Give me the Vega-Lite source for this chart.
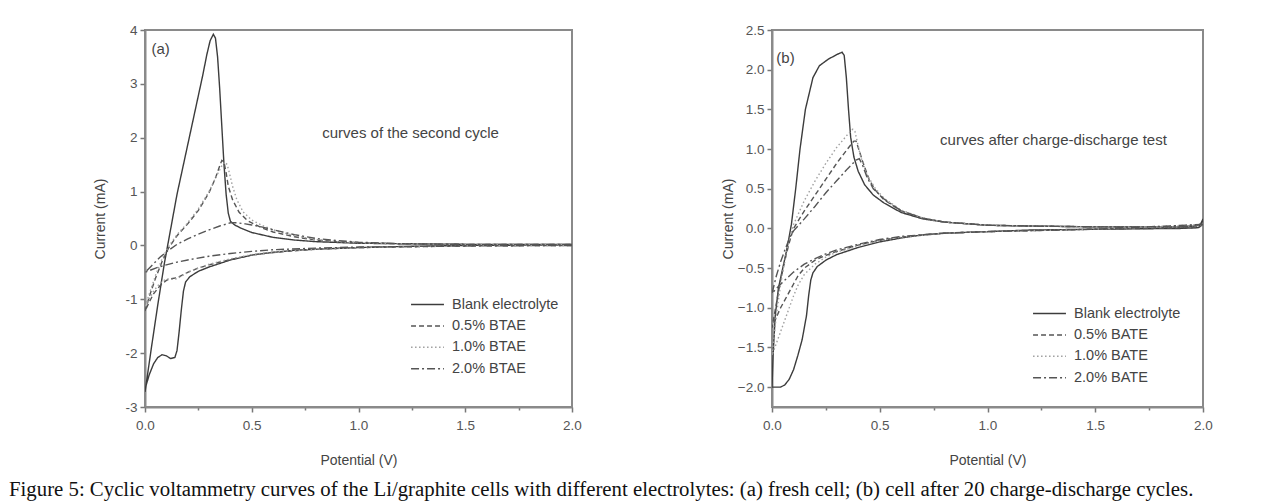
{
  "$schema": "https://vega.github.io/schema/vega-lite/v6.json",
  "autosize": {"type": "pad"},
  "padding": {"left": 8, "top": 22, "right": 5, "bottom": 2},
  "background": "white",
  "title": {
    "text": "Figure 5: Cyclic voltammetry curves of the Li/graphite cells with different electrolytes: (a) fresh cell; (b) cell after 20 charge-discharge cycles.",
    "orient": "bottom", "anchor": "start", "font": "Liberation Serif", "fontSize": 20.8,
    "fontWeight": "normal", "color": "#111", "offset": 11, "dx": -84
  },
  "config": {
    "view": {"stroke": "#8a8a8a", "strokeWidth": 2},
    "axis": {
      "domainColor": "#8a8a8a", "domainWidth": 2, "tickColor": "#777", "tickWidth": 1.5,
      "labelFont": "Liberation Sans", "labelFontSize": 13.5, "labelColor": "#555",
      "titleFont": "Liberation Sans", "titleFontSize": 14, "titleFontWeight": "normal",
      "titleColor": "#444", "grid": false, "labelFlush": false, "labelOverlap": false
    },
    "axisX": {"labelPadding": 6, "titlePadding": 22},
    "axisY": {"labelPadding": 3},
    "legend": {
      "labelFont": "Liberation Sans", "labelFontSize": 14.5, "labelColor": "#444",
      "symbolType": "M-1.9,0H1.9", "symbolSize": 300, "symbolStrokeWidth": 1.5, "rowPadding": 5.4,
      "labelOffset": 15
    },
    "text": {"font": "Liberation Sans", "fontSize": 15, "color": "#444"}
  },
  "resolve": {
    "scale": {"color": "independent", "strokeDash": "independent"},
    "legend": {"color": "independent", "strokeDash": "independent"}
  },
  "spacing": 137,
  "hconcat": [
    {
      "width": 427, "height": 377,
      "layer": [
        {
          "data": {"values": [
            {"s":"Blank electrolyte","v":2.0,"c":0.01},{"s":"Blank electrolyte","v":1.5,"c":0.0},{"s":"Blank electrolyte","v":1.2,"c":-0.02},{"s":"Blank electrolyte","v":1.0,"c":-0.04},{"s":"Blank electrolyte","v":0.8,"c":-0.07},{"s":"Blank electrolyte","v":0.7,"c":-0.09},{"s":"Blank electrolyte","v":0.6,"c":-0.13},{"s":"Blank electrolyte","v":0.5,"c":-0.18},{"s":"Blank electrolyte","v":0.4,"c":-0.27},{"s":"Blank electrolyte","v":0.3,"c":-0.4},{"s":"Blank electrolyte","v":0.25,"c":-0.48},{"s":"Blank electrolyte","v":0.21,"c":-0.58},{"s":"Blank electrolyte","v":0.19,"c":-0.68},{"s":"Blank electrolyte","v":0.18,"c":-0.85},{"s":"Blank electrolyte","v":0.17,"c":-1.2},{"s":"Blank electrolyte","v":0.16,"c":-1.6},{"s":"Blank electrolyte","v":0.15,"c":-1.95},{"s":"Blank electrolyte","v":0.14,"c":-2.08},{"s":"Blank electrolyte","v":0.12,"c":-2.1},{"s":"Blank electrolyte","v":0.1,"c":-2.05},{"s":"Blank electrolyte","v":0.08,"c":-2.03},{"s":"Blank electrolyte","v":0.06,"c":-2.08},{"s":"Blank electrolyte","v":0.04,"c":-2.2},{"s":"Blank electrolyte","v":0.02,"c":-2.4},{"s":"Blank electrolyte","v":0.005,"c":-2.6},{"s":"Blank electrolyte","v":0.0,"c":-2.72},
            {"s":"Blank electrolyte","v":0.01,"c":-2.45},{"s":"Blank electrolyte","v":0.03,"c":-1.9},{"s":"Blank electrolyte","v":0.06,"c":-1.1},{"s":"Blank electrolyte","v":0.09,"c":-0.35},{"s":"Blank electrolyte","v":0.12,"c":0.3},{"s":"Blank electrolyte","v":0.15,"c":0.95},{"s":"Blank electrolyte","v":0.18,"c":1.5},{"s":"Blank electrolyte","v":0.21,"c":2.05},{"s":"Blank electrolyte","v":0.24,"c":2.6},{"s":"Blank electrolyte","v":0.27,"c":3.15},{"s":"Blank electrolyte","v":0.29,"c":3.55},{"s":"Blank electrolyte","v":0.305,"c":3.8},{"s":"Blank electrolyte","v":0.32,"c":3.92},{"s":"Blank electrolyte","v":0.33,"c":3.85},{"s":"Blank electrolyte","v":0.34,"c":3.5},{"s":"Blank electrolyte","v":0.35,"c":2.9},{"s":"Blank electrolyte","v":0.36,"c":2.2},{"s":"Blank electrolyte","v":0.37,"c":1.5},{"s":"Blank electrolyte","v":0.38,"c":0.95},{"s":"Blank electrolyte","v":0.39,"c":0.6},{"s":"Blank electrolyte","v":0.4,"c":0.45},{"s":"Blank electrolyte","v":0.42,"c":0.38},{"s":"Blank electrolyte","v":0.45,"c":0.32},{"s":"Blank electrolyte","v":0.5,"c":0.24},{"s":"Blank electrolyte","v":0.6,"c":0.15},{"s":"Blank electrolyte","v":0.7,"c":0.1},{"s":"Blank electrolyte","v":0.8,"c":0.07},{"s":"Blank electrolyte","v":1.0,"c":0.04},{"s":"Blank electrolyte","v":1.5,"c":0.02},{"s":"Blank electrolyte","v":2.0,"c":0.02},
            {"s":"0.5% BTAE","v":2.0,"c":0.0},{"s":"0.5% BTAE","v":1.5,"c":-0.01},{"s":"0.5% BTAE","v":1.0,"c":-0.04},{"s":"0.5% BTAE","v":0.8,"c":-0.07},{"s":"0.5% BTAE","v":0.6,"c":-0.13},{"s":"0.5% BTAE","v":0.5,"c":-0.18},{"s":"0.5% BTAE","v":0.4,"c":-0.26},{"s":"0.5% BTAE","v":0.3,"c":-0.36},{"s":"0.5% BTAE","v":0.25,"c":-0.42},{"s":"0.5% BTAE","v":0.2,"c":-0.5},{"s":"0.5% BTAE","v":0.17,"c":-0.56},{"s":"0.5% BTAE","v":0.15,"c":-0.6},{"s":"0.5% BTAE","v":0.12,"c":-0.62},{"s":"0.5% BTAE","v":0.1,"c":-0.65},{"s":"0.5% BTAE","v":0.07,"c":-0.75},{"s":"0.5% BTAE","v":0.04,"c":-0.9},{"s":"0.5% BTAE","v":0.02,"c":-1.05},{"s":"0.5% BTAE","v":0.0,"c":-1.22},
            {"s":"0.5% BTAE","v":0.02,"c":-0.95},{"s":"0.5% BTAE","v":0.05,"c":-0.6},{"s":"0.5% BTAE","v":0.08,"c":-0.3},{"s":"0.5% BTAE","v":0.11,"c":-0.05},{"s":"0.5% BTAE","v":0.15,"c":0.18},{"s":"0.5% BTAE","v":0.2,"c":0.4},{"s":"0.5% BTAE","v":0.25,"c":0.65},{"s":"0.5% BTAE","v":0.3,"c":0.98},{"s":"0.5% BTAE","v":0.33,"c":1.25},{"s":"0.5% BTAE","v":0.35,"c":1.48},{"s":"0.5% BTAE","v":0.36,"c":1.58},{"s":"0.5% BTAE","v":0.37,"c":1.55},{"s":"0.5% BTAE","v":0.38,"c":1.35},{"s":"0.5% BTAE","v":0.39,"c":1.1},{"s":"0.5% BTAE","v":0.41,"c":0.85},{"s":"0.5% BTAE","v":0.44,"c":0.62},{"s":"0.5% BTAE","v":0.48,"c":0.46},{"s":"0.5% BTAE","v":0.55,"c":0.32},{"s":"0.5% BTAE","v":0.6,"c":0.25},{"s":"0.5% BTAE","v":0.7,"c":0.16},{"s":"0.5% BTAE","v":0.8,"c":0.1},{"s":"0.5% BTAE","v":0.9,"c":0.07},{"s":"0.5% BTAE","v":1.0,"c":0.05},{"s":"0.5% BTAE","v":1.2,"c":0.03},{"s":"0.5% BTAE","v":1.5,"c":0.02},{"s":"0.5% BTAE","v":2.0,"c":0.02},
            {"s":"1.0% BTAE","v":2.0,"c":0.0},{"s":"1.0% BTAE","v":1.5,"c":-0.01},{"s":"1.0% BTAE","v":1.0,"c":-0.04},{"s":"1.0% BTAE","v":0.8,"c":-0.07},{"s":"1.0% BTAE","v":0.6,"c":-0.12},{"s":"1.0% BTAE","v":0.5,"c":-0.17},{"s":"1.0% BTAE","v":0.4,"c":-0.25},{"s":"1.0% BTAE","v":0.3,"c":-0.35},{"s":"1.0% BTAE","v":0.25,"c":-0.42},{"s":"1.0% BTAE","v":0.2,"c":-0.5},{"s":"1.0% BTAE","v":0.17,"c":-0.57},{"s":"1.0% BTAE","v":0.15,"c":-0.62},{"s":"1.0% BTAE","v":0.13,"c":-0.63},{"s":"1.0% BTAE","v":0.1,"c":-0.62},{"s":"1.0% BTAE","v":0.07,"c":-0.7},{"s":"1.0% BTAE","v":0.04,"c":-0.85},{"s":"1.0% BTAE","v":0.02,"c":-1.0},{"s":"1.0% BTAE","v":0.0,"c":-1.15},
            {"s":"1.0% BTAE","v":0.02,"c":-0.9},{"s":"1.0% BTAE","v":0.05,"c":-0.55},{"s":"1.0% BTAE","v":0.08,"c":-0.25},{"s":"1.0% BTAE","v":0.11,"c":-0.02},{"s":"1.0% BTAE","v":0.15,"c":0.2},{"s":"1.0% BTAE","v":0.2,"c":0.42},{"s":"1.0% BTAE","v":0.25,"c":0.68},{"s":"1.0% BTAE","v":0.3,"c":1.0},{"s":"1.0% BTAE","v":0.33,"c":1.25},{"s":"1.0% BTAE","v":0.36,"c":1.48},{"s":"1.0% BTAE","v":0.375,"c":1.55},{"s":"1.0% BTAE","v":0.385,"c":1.5},{"s":"1.0% BTAE","v":0.395,"c":1.35},{"s":"1.0% BTAE","v":0.41,"c":1.1},{"s":"1.0% BTAE","v":0.43,"c":0.85},{"s":"1.0% BTAE","v":0.46,"c":0.62},{"s":"1.0% BTAE","v":0.5,"c":0.47},{"s":"1.0% BTAE","v":0.55,"c":0.37},{"s":"1.0% BTAE","v":0.6,"c":0.29},{"s":"1.0% BTAE","v":0.7,"c":0.18},{"s":"1.0% BTAE","v":0.8,"c":0.11},{"s":"1.0% BTAE","v":0.9,"c":0.07},{"s":"1.0% BTAE","v":1.0,"c":0.05},{"s":"1.0% BTAE","v":1.2,"c":0.03},{"s":"1.0% BTAE","v":1.5,"c":0.02},{"s":"1.0% BTAE","v":2.0,"c":0.02},
            {"s":"2.0% BTAE","v":2.0,"c":0.0},{"s":"2.0% BTAE","v":1.5,"c":-0.01},{"s":"2.0% BTAE","v":1.0,"c":-0.03},{"s":"2.0% BTAE","v":0.8,"c":-0.05},{"s":"2.0% BTAE","v":0.6,"c":-0.08},{"s":"2.0% BTAE","v":0.5,"c":-0.11},{"s":"2.0% BTAE","v":0.4,"c":-0.15},{"s":"2.0% BTAE","v":0.3,"c":-0.2},{"s":"2.0% BTAE","v":0.2,"c":-0.27},{"s":"2.0% BTAE","v":0.15,"c":-0.31},{"s":"2.0% BTAE","v":0.1,"c":-0.36},{"s":"2.0% BTAE","v":0.05,"c":-0.42},{"s":"2.0% BTAE","v":0.0,"c":-0.5},
            {"s":"2.0% BTAE","v":0.03,"c":-0.38},{"s":"2.0% BTAE","v":0.07,"c":-0.22},{"s":"2.0% BTAE","v":0.1,"c":-0.12},{"s":"2.0% BTAE","v":0.15,"c":0.02},{"s":"2.0% BTAE","v":0.2,"c":0.12},{"s":"2.0% BTAE","v":0.25,"c":0.21},{"s":"2.0% BTAE","v":0.3,"c":0.29},{"s":"2.0% BTAE","v":0.35,"c":0.36},{"s":"2.0% BTAE","v":0.4,"c":0.42},{"s":"2.0% BTAE","v":0.43,"c":0.42},{"s":"2.0% BTAE","v":0.47,"c":0.4},{"s":"2.0% BTAE","v":0.5,"c":0.38},{"s":"2.0% BTAE","v":0.55,"c":0.34},{"s":"2.0% BTAE","v":0.6,"c":0.29},{"s":"2.0% BTAE","v":0.7,"c":0.2},{"s":"2.0% BTAE","v":0.8,"c":0.13},{"s":"2.0% BTAE","v":0.9,"c":0.09},{"s":"2.0% BTAE","v":1.0,"c":0.06},{"s":"2.0% BTAE","v":1.2,"c":0.03},{"s":"2.0% BTAE","v":1.5,"c":0.02},{"s":"2.0% BTAE","v":2.0,"c":0.02}
          ]},
          "mark": {"type": "line", "strokeWidth": 1.4, "clip": true},
          "encoding": {
            "x": {"field": "v", "type": "quantitative",
              "scale": {"domain": [0, 2], "nice": false, "zero": false},
              "axis": {"title": "Potential (V)",
                "values": [0, 0.25, 0.5, 0.75, 1, 1.25, 1.5, 1.75, 2],
                "labelExpr": "(datum.value * 4) % 2 === 0 ? format(datum.value, '.1f') : ''",
                "tickSize": {"condition": {"test": "(datum.value * 4) % 2 === 0", "value": 5}, "value": 3}}},
            "y": {"field": "c", "type": "quantitative",
              "scale": {"domain": [-3, 4], "nice": false, "zero": false},
              "axis": {"title": "Current (mA)", "titlePadding": 17,
                "values": [-3, -2.5, -2, -1.5, -1, -0.5, 0, 0.5, 1, 1.5, 2, 2.5, 3, 3.5, 4],
                "labelExpr": "(datum.value * 2) % 2 === 0 ? (datum.value < 0 ? '-' : '') + format(abs(datum.value), 'd') : ''",
                "tickSize": {"condition": {"test": "(datum.value * 2) % 2 === 0", "value": 5}, "value": 3}}},
            "color": {"field": "s", "type": "nominal",
              "scale": {"domain": ["Blank electrolyte", "0.5% BTAE", "1.0% BTAE", "2.0% BTAE"], "range": ["#3c3c3c", "#555555", "#a0a0a0", "#555555"]},
              "legend": {"orient": "none", "legendX": 273, "legendY": 265, "title": null}},
            "strokeDash": {"field": "s", "type": "nominal",
              "scale": {"domain": ["Blank electrolyte", "0.5% BTAE", "1.0% BTAE", "2.0% BTAE"], "range": [[1, 0], [5, 3], [1.5, 2.5], [8, 3, 2, 3]]},
              "legend": {"orient": "none", "legendX": 273, "legendY": 265, "title": null}},
            "order": {"value": null}
          }
        },
        {
          "data": {"values": [
            {"t": "(a)", "v": 0.03, "c": 3.64},
            {"t": "curves of the second cycle", "v": 0.83, "c": 2.08}
          ]},
          "mark": {"type": "text", "align": "left", "baseline": "middle"},
          "encoding": {
            "x": {"field": "v", "type": "quantitative"},
            "y": {"field": "c", "type": "quantitative"},
            "text": {"field": "t"}
          }
        }
      ]
    },
    {
      "width": 431, "height": 377,
      "layer": [
        {
          "data": {"values": [
            {"s":"Blank electrolyte","v":2.0,"c":0.1},{"s":"Blank electrolyte","v":1.98,"c":0.01},{"s":"Blank electrolyte","v":1.9,"c":0.0},{"s":"Blank electrolyte","v":1.5,"c":-0.01},{"s":"Blank electrolyte","v":1.2,"c":-0.02},{"s":"Blank electrolyte","v":1.0,"c":-0.04},{"s":"Blank electrolyte","v":0.8,"c":-0.06},{"s":"Blank electrolyte","v":0.7,"c":-0.08},{"s":"Blank electrolyte","v":0.6,"c":-0.12},{"s":"Blank electrolyte","v":0.5,"c":-0.17},{"s":"Blank electrolyte","v":0.4,"c":-0.24},{"s":"Blank electrolyte","v":0.3,"c":-0.33},{"s":"Blank electrolyte","v":0.25,"c":-0.4},{"s":"Blank electrolyte","v":0.21,"c":-0.48},{"s":"Blank electrolyte","v":0.19,"c":-0.56},{"s":"Blank electrolyte","v":0.18,"c":-0.65},{"s":"Blank electrolyte","v":0.17,"c":-0.85},{"s":"Blank electrolyte","v":0.16,"c":-1.1},{"s":"Blank electrolyte","v":0.14,"c":-1.4},{"s":"Blank electrolyte","v":0.12,"c":-1.6},{"s":"Blank electrolyte","v":0.1,"c":-1.78},{"s":"Blank electrolyte","v":0.08,"c":-1.9},{"s":"Blank electrolyte","v":0.06,"c":-1.97},{"s":"Blank electrolyte","v":0.04,"c":-2.0},{"s":"Blank electrolyte","v":0.0,"c":-2.0},
            {"s":"Blank electrolyte","v":0.005,"c":-1.6},{"s":"Blank electrolyte","v":0.015,"c":-1.1},{"s":"Blank electrolyte","v":0.03,"c":-0.75},{"s":"Blank electrolyte","v":0.05,"c":-0.5},{"s":"Blank electrolyte","v":0.07,"c":-0.25},{"s":"Blank electrolyte","v":0.09,"c":0.05},{"s":"Blank electrolyte","v":0.11,"c":0.5},{"s":"Blank electrolyte","v":0.13,"c":1.0},{"s":"Blank electrolyte","v":0.155,"c":1.5},{"s":"Blank electrolyte","v":0.19,"c":1.9},{"s":"Blank electrolyte","v":0.22,"c":2.05},{"s":"Blank electrolyte","v":0.26,"c":2.13},{"s":"Blank electrolyte","v":0.3,"c":2.19},{"s":"Blank electrolyte","v":0.325,"c":2.22},{"s":"Blank electrolyte","v":0.335,"c":2.18},{"s":"Blank electrolyte","v":0.345,"c":1.9},{"s":"Blank electrolyte","v":0.355,"c":1.5},{"s":"Blank electrolyte","v":0.365,"c":1.15},{"s":"Blank electrolyte","v":0.38,"c":0.9},{"s":"Blank electrolyte","v":0.4,"c":0.72},{"s":"Blank electrolyte","v":0.43,"c":0.55},{"s":"Blank electrolyte","v":0.47,"c":0.42},{"s":"Blank electrolyte","v":0.52,"c":0.32},{"s":"Blank electrolyte","v":0.6,"c":0.2},{"s":"Blank electrolyte","v":0.7,"c":0.12},{"s":"Blank electrolyte","v":0.8,"c":0.08},{"s":"Blank electrolyte","v":1.0,"c":0.04},{"s":"Blank electrolyte","v":1.2,"c":0.03},{"s":"Blank electrolyte","v":1.5,"c":0.02},{"s":"Blank electrolyte","v":1.9,"c":0.02},{"s":"Blank electrolyte","v":1.97,"c":0.03},{"s":"Blank electrolyte","v":1.99,"c":0.06},{"s":"Blank electrolyte","v":2.0,"c":0.12},
            {"s":"0.5% BATE","v":2.0,"c":0.05},{"s":"0.5% BATE","v":1.98,"c":0.01},{"s":"0.5% BATE","v":1.5,"c":-0.01},{"s":"0.5% BATE","v":1.0,"c":-0.04},{"s":"0.5% BATE","v":0.8,"c":-0.06},{"s":"0.5% BATE","v":0.6,"c":-0.11},{"s":"0.5% BATE","v":0.5,"c":-0.15},{"s":"0.5% BATE","v":0.4,"c":-0.21},{"s":"0.5% BATE","v":0.3,"c":-0.29},{"s":"0.5% BATE","v":0.25,"c":-0.34},{"s":"0.5% BATE","v":0.2,"c":-0.4},{"s":"0.5% BATE","v":0.15,"c":-0.5},{"s":"0.5% BATE","v":0.12,"c":-0.6},{"s":"0.5% BATE","v":0.1,"c":-0.7},{"s":"0.5% BATE","v":0.07,"c":-0.85},{"s":"0.5% BATE","v":0.04,"c":-1.0},{"s":"0.5% BATE","v":0.02,"c":-1.12},{"s":"0.5% BATE","v":0.0,"c":-1.25},
            {"s":"0.5% BATE","v":0.02,"c":-0.95},{"s":"0.5% BATE","v":0.04,"c":-0.65},{"s":"0.5% BATE","v":0.06,"c":-0.4},{"s":"0.5% BATE","v":0.08,"c":-0.18},{"s":"0.5% BATE","v":0.1,"c":0.0},{"s":"0.5% BATE","v":0.15,"c":0.22},{"s":"0.5% BATE","v":0.2,"c":0.42},{"s":"0.5% BATE","v":0.25,"c":0.62},{"s":"0.5% BATE","v":0.3,"c":0.82},{"s":"0.5% BATE","v":0.35,"c":1.0},{"s":"0.5% BATE","v":0.38,"c":1.1},{"s":"0.5% BATE","v":0.39,"c":1.1},{"s":"0.5% BATE","v":0.4,"c":1.02},{"s":"0.5% BATE","v":0.42,"c":0.85},{"s":"0.5% BATE","v":0.45,"c":0.62},{"s":"0.5% BATE","v":0.48,"c":0.48},{"s":"0.5% BATE","v":0.52,"c":0.36},{"s":"0.5% BATE","v":0.6,"c":0.22},{"s":"0.5% BATE","v":0.7,"c":0.13},{"s":"0.5% BATE","v":0.8,"c":0.08},{"s":"0.5% BATE","v":1.0,"c":0.04},{"s":"0.5% BATE","v":1.2,"c":0.03},{"s":"0.5% BATE","v":1.5,"c":0.02},{"s":"0.5% BATE","v":1.9,"c":0.02},{"s":"0.5% BATE","v":2.0,"c":0.05},
            {"s":"1.0% BATE","v":2.0,"c":0.05},{"s":"1.0% BATE","v":1.5,"c":-0.01},{"s":"1.0% BATE","v":1.0,"c":-0.04},{"s":"1.0% BATE","v":0.8,"c":-0.06},{"s":"1.0% BATE","v":0.6,"c":-0.11},{"s":"1.0% BATE","v":0.5,"c":-0.15},{"s":"1.0% BATE","v":0.4,"c":-0.22},{"s":"1.0% BATE","v":0.3,"c":-0.3},{"s":"1.0% BATE","v":0.25,"c":-0.36},{"s":"1.0% BATE","v":0.2,"c":-0.45},{"s":"1.0% BATE","v":0.15,"c":-0.58},{"s":"1.0% BATE","v":0.12,"c":-0.72},{"s":"1.0% BATE","v":0.1,"c":-0.85},{"s":"1.0% BATE","v":0.08,"c":-1.0},{"s":"1.0% BATE","v":0.06,"c":-1.15},{"s":"1.0% BATE","v":0.04,"c":-1.3},{"s":"1.0% BATE","v":0.02,"c":-1.45},{"s":"1.0% BATE","v":0.0,"c":-1.6},
            {"s":"1.0% BATE","v":0.02,"c":-1.1},{"s":"1.0% BATE","v":0.04,"c":-0.7},{"s":"1.0% BATE","v":0.06,"c":-0.4},{"s":"1.0% BATE","v":0.08,"c":-0.15},{"s":"1.0% BATE","v":0.1,"c":0.05},{"s":"1.0% BATE","v":0.15,"c":0.35},{"s":"1.0% BATE","v":0.2,"c":0.6},{"s":"1.0% BATE","v":0.25,"c":0.82},{"s":"1.0% BATE","v":0.3,"c":1.02},{"s":"1.0% BATE","v":0.35,"c":1.18},{"s":"1.0% BATE","v":0.375,"c":1.25},{"s":"1.0% BATE","v":0.385,"c":1.22},{"s":"1.0% BATE","v":0.395,"c":1.1},{"s":"1.0% BATE","v":0.41,"c":0.92},{"s":"1.0% BATE","v":0.44,"c":0.68},{"s":"1.0% BATE","v":0.48,"c":0.5},{"s":"1.0% BATE","v":0.52,"c":0.38},{"s":"1.0% BATE","v":0.6,"c":0.23},{"s":"1.0% BATE","v":0.7,"c":0.13},{"s":"1.0% BATE","v":0.8,"c":0.08},{"s":"1.0% BATE","v":1.0,"c":0.04},{"s":"1.0% BATE","v":1.2,"c":0.03},{"s":"1.0% BATE","v":1.5,"c":0.02},{"s":"1.0% BATE","v":1.9,"c":0.02},{"s":"1.0% BATE","v":2.0,"c":0.05},
            {"s":"2.0% BATE","v":2.0,"c":0.05},{"s":"2.0% BATE","v":1.5,"c":-0.01},{"s":"2.0% BATE","v":1.0,"c":-0.04},{"s":"2.0% BATE","v":0.8,"c":-0.06},{"s":"2.0% BATE","v":0.6,"c":-0.1},{"s":"2.0% BATE","v":0.5,"c":-0.14},{"s":"2.0% BATE","v":0.4,"c":-0.2},{"s":"2.0% BATE","v":0.3,"c":-0.27},{"s":"2.0% BATE","v":0.25,"c":-0.32},{"s":"2.0% BATE","v":0.2,"c":-0.38},{"s":"2.0% BATE","v":0.15,"c":-0.45},{"s":"2.0% BATE","v":0.1,"c":-0.55},{"s":"2.0% BATE","v":0.06,"c":-0.65},{"s":"2.0% BATE","v":0.03,"c":-0.73},{"s":"2.0% BATE","v":0.0,"c":-0.82},
            {"s":"2.0% BATE","v":0.02,"c":-0.6},{"s":"2.0% BATE","v":0.04,"c":-0.42},{"s":"2.0% BATE","v":0.06,"c":-0.27},{"s":"2.0% BATE","v":0.08,"c":-0.13},{"s":"2.0% BATE","v":0.1,"c":-0.03},{"s":"2.0% BATE","v":0.15,"c":0.12},{"s":"2.0% BATE","v":0.2,"c":0.28},{"s":"2.0% BATE","v":0.25,"c":0.45},{"s":"2.0% BATE","v":0.3,"c":0.6},{"s":"2.0% BATE","v":0.35,"c":0.75},{"s":"2.0% BATE","v":0.39,"c":0.86},{"s":"2.0% BATE","v":0.405,"c":0.88},{"s":"2.0% BATE","v":0.42,"c":0.8},{"s":"2.0% BATE","v":0.44,"c":0.65},{"s":"2.0% BATE","v":0.47,"c":0.5},{"s":"2.0% BATE","v":0.52,"c":0.37},{"s":"2.0% BATE","v":0.6,"c":0.22},{"s":"2.0% BATE","v":0.7,"c":0.13},{"s":"2.0% BATE","v":0.8,"c":0.08},{"s":"2.0% BATE","v":1.0,"c":0.04},{"s":"2.0% BATE","v":1.2,"c":0.03},{"s":"2.0% BATE","v":1.5,"c":0.02},{"s":"2.0% BATE","v":1.9,"c":0.02},{"s":"2.0% BATE","v":2.0,"c":0.05}
          ]},
          "mark": {"type": "line", "strokeWidth": 1.4, "clip": true},
          "encoding": {
            "x": {"field": "v", "type": "quantitative",
              "scale": {"domain": [0, 2], "nice": false, "zero": false},
              "axis": {"title": "Potential (V)",
                "values": [0, 0.25, 0.5, 0.75, 1, 1.25, 1.5, 1.75, 2],
                "labelExpr": "(datum.value * 4) % 2 === 0 ? format(datum.value, '.1f') : ''",
                "tickSize": {"condition": {"test": "(datum.value * 4) % 2 === 0", "value": 5}, "value": 3}}},
            "y": {"field": "c", "type": "quantitative",
              "scale": {"domain": [-2.25, 2.5], "nice": false, "zero": false},
              "axis": {"title": "Current (mA)", "titlePadding": 2, "format": ".1f", "labels": true,
                "values": [-2, -1.5, -1, -0.5, 0, 0.5, 1, 1.5, 2, 2.5]}},
            "color": {"field": "s", "type": "nominal",
              "scale": {"domain": ["Blank electrolyte", "0.5% BATE", "1.0% BATE", "2.0% BATE"], "range": ["#3c3c3c", "#555555", "#a0a0a0", "#555555"]},
              "legend": {"orient": "none", "legendX": 268, "legendY": 274, "title": null}},
            "strokeDash": {"field": "s", "type": "nominal",
              "scale": {"domain": ["Blank electrolyte", "0.5% BATE", "1.0% BATE", "2.0% BATE"], "range": [[1, 0], [5, 3], [1.5, 2.5], [8, 3, 2, 3]]},
              "legend": {"orient": "none", "legendX": 268, "legendY": 274, "title": null}},
            "order": {"value": null}
          }
        },
        {
          "data": {"values": [
            {"t": "(b)", "v": 0.02, "c": 2.15},
            {"t": "curves after charge-discharge test", "v": 0.78, "c": 1.11}
          ]},
          "mark": {"type": "text", "align": "left", "baseline": "middle"},
          "encoding": {
            "x": {"field": "v", "type": "quantitative"},
            "y": {"field": "c", "type": "quantitative"},
            "text": {"field": "t"}
          }
        }
      ]
    }
  ]
}
